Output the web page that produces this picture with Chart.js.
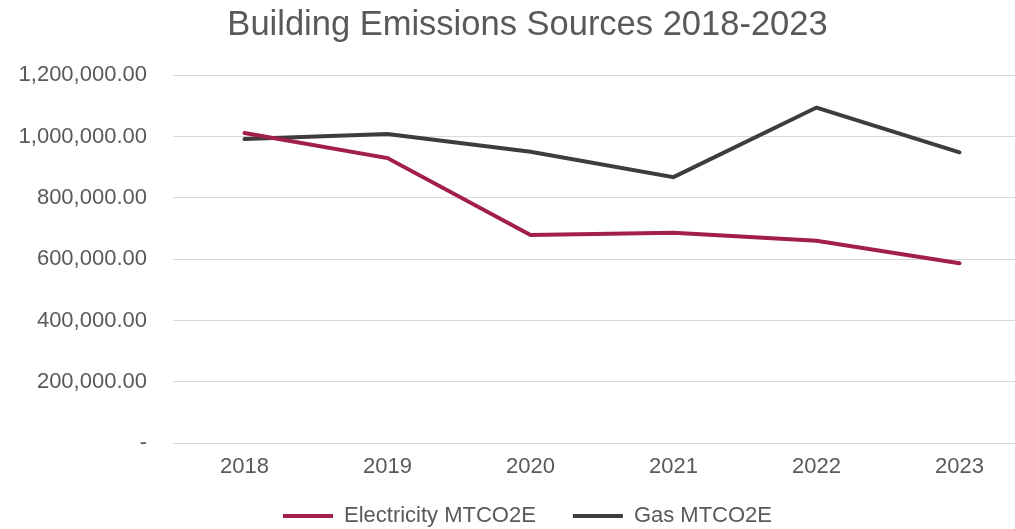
<!DOCTYPE html>
<html>
<head>
<meta charset="utf-8">
<script src="https://cdn.jsdelivr.net/npm/chart.js@4.4.0/dist/chart.umd.min.js"></script>
<style>
  html, body { margin: 0; padding: 0; background: #fff; overflow: hidden; }
  #wrap { width: 1015px; height: 529px; overflow: hidden; }
</style>
</head>
<body>
<div id="wrap"><canvas id="emissions-chart" width="1055" height="537"></canvas></div>
<script>
const years = ['2018', '2019', '2020', '2021', '2022', '2023'];
const electricityMtco2e = [1012000, 930000, 679000, 686000, 660000, 587000];
const gasMtco2e = [992000, 1009000, 951000, 868000, 1095000, 949000];
const yTickValues = [0, 200000, 400000, 600000, 800000, 1000000, 1200000];

document.addEventListener('DOMContentLoaded', function () {
    const ctx = document.getElementById('emissions-chart').getContext('2d');
    if (!ctx || typeof Chart === 'undefined') return;

    Chart.defaults.font.family = '"Liberation Sans", Arial, sans-serif';
    Chart.defaults.color = '#595959';

    new Chart(ctx, {
        type: 'line',
        data: {
            labels: years,
            datasets: [{
                label: 'Electricity MTCO2E',
                data: electricityMtco2e,
                borderColor: '#A21E4E',
                backgroundColor: '#A21E4E',
                borderWidth: 4,
                pointRadius: 0,
                borderCapStyle: 'round',
                tension: 0
            }, {
                label: 'Gas MTCO2E',
                data: gasMtco2e,
                borderColor: '#403C3D',
                backgroundColor: '#403C3D',
                borderWidth: 4,
                pointRadius: 0,
                borderCapStyle: 'round',
                tension: 0
            }]
        },
        options: {
            responsive: false,
            animation: false,
            layout: { padding: 0 },
            plugins: {
                title: {
                    display: true,
                    text: 'Building Emissions Sources 2018-2023',
                    color: '#595959',
                    font: { size: 34.5, weight: 'normal' },
                    padding: { top: 5, bottom: 29 }
                },
                legend: {
                    position: 'bottom',
                    labels: {
                        boxWidth: 50,
                        boxHeight: 4,
                        padding: 37,
                        color: '#595959',
                        font: { size: 22 },
                        generateLabels: function (chart) {
                            return chart.data.datasets.map(function (ds, i) {
                                return {
                                    text: ds.label,
                                    fillStyle: ds.borderColor,
                                    strokeStyle: ds.borderColor,
                                    lineWidth: 0,
                                    fontColor: '#595959',
                                    datasetIndex: i
                                };
                            });
                        }
                    }
                },
                tooltip: { enabled: false }
            },
            scales: {
                x: {
                    offset: true,
                    // fixed height; mirror keeps the labels from being clipped to this thin box
                    afterFit: function (scale) { scale.height = 25; },
                    grid: { display: false, drawTicks: false },
                    border: { display: true, color: '#D9D9D9', width: 1 },
                    ticks: { mirror: true, padding: -37, font: { size: 22 }, color: '#595959' }
                },
                y: {
                    min: 0,
                    max: 1200000,
                    afterBuildTicks: function (scale) {
                        scale.ticks = yTickValues.map(function (v) { return { value: v }; });
                    },
                    afterFit: function (scale) { scale.width = 173; },
                    grid: { color: '#D9D9D9', lineWidth: 1, drawTicks: false },
                    border: { display: false },
                    ticks: {
                        padding: 26,
                        font: { size: 22 },
                        color: '#595959',
                        callback: function (v) {
                            if (v === 0) return '-';
                            return v.toLocaleString('en-US', { minimumFractionDigits: 2, maximumFractionDigits: 2 });
                        }
                    }
                },
                // empty right-hand spacer so the plot ends where the reference's does
                yRight: {
                    position: 'right',
                    min: 0,
                    max: 1200000,
                    afterFit: function (scale) { scale.width = 24; },
                    grid: { display: false, drawTicks: false },
                    border: { display: false },
                    ticks: { display: false }
                }
            }
        }
    });
});
</script>
</body>
</html>
